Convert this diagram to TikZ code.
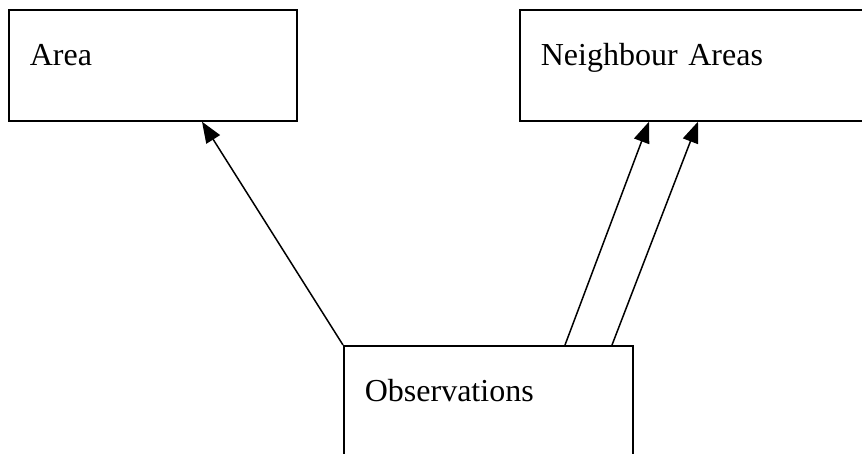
\documentclass[tikz,border=0pt]{standalone}
\usepackage{fontspec}
\setmainfont{Liberation Serif}
\usetikzlibrary{arrows.meta,positioning}

\tikzset{
    box/.style={draw, line width=1.7pt, anchor=north west, align=left,
        inner xsep=21pt, inner ysep=0pt, text height=56pt, text depth=55pt,
        font=\fontsize{32pt}{38pt}\selectfont},
    link/.style={line width=1.5pt, -{Triangle[length=21pt,width=16pt]}}
}

\begin{document}
\begin{tikzpicture}[x=1pt, y={(0pt,-1pt)}]
    \useasboundingbox (0,0) rectangle (862,454);
    \clip (0,0) rectangle (862,454);
    % Boxes
    \node [box, text width=246pt] (area) at (8,9) {Area};
    \node [box, text width=338pt] (nbr) at (519,9) {Neighbour Areas};
    \node [box, text width=247pt] (obs) at (343,345) {Observations};
    % Arrows
    \draw [link] (obs.north west) -- ([xshift=194pt]area.south west);
    \draw [link] ([xshift=222pt]obs.north west) -- ([xshift=130pt]nbr.south west);
    \draw [link] ([xshift=269pt]obs.north west) -- ([xshift=179pt]nbr.south west);
\end{tikzpicture}
\end{document}
